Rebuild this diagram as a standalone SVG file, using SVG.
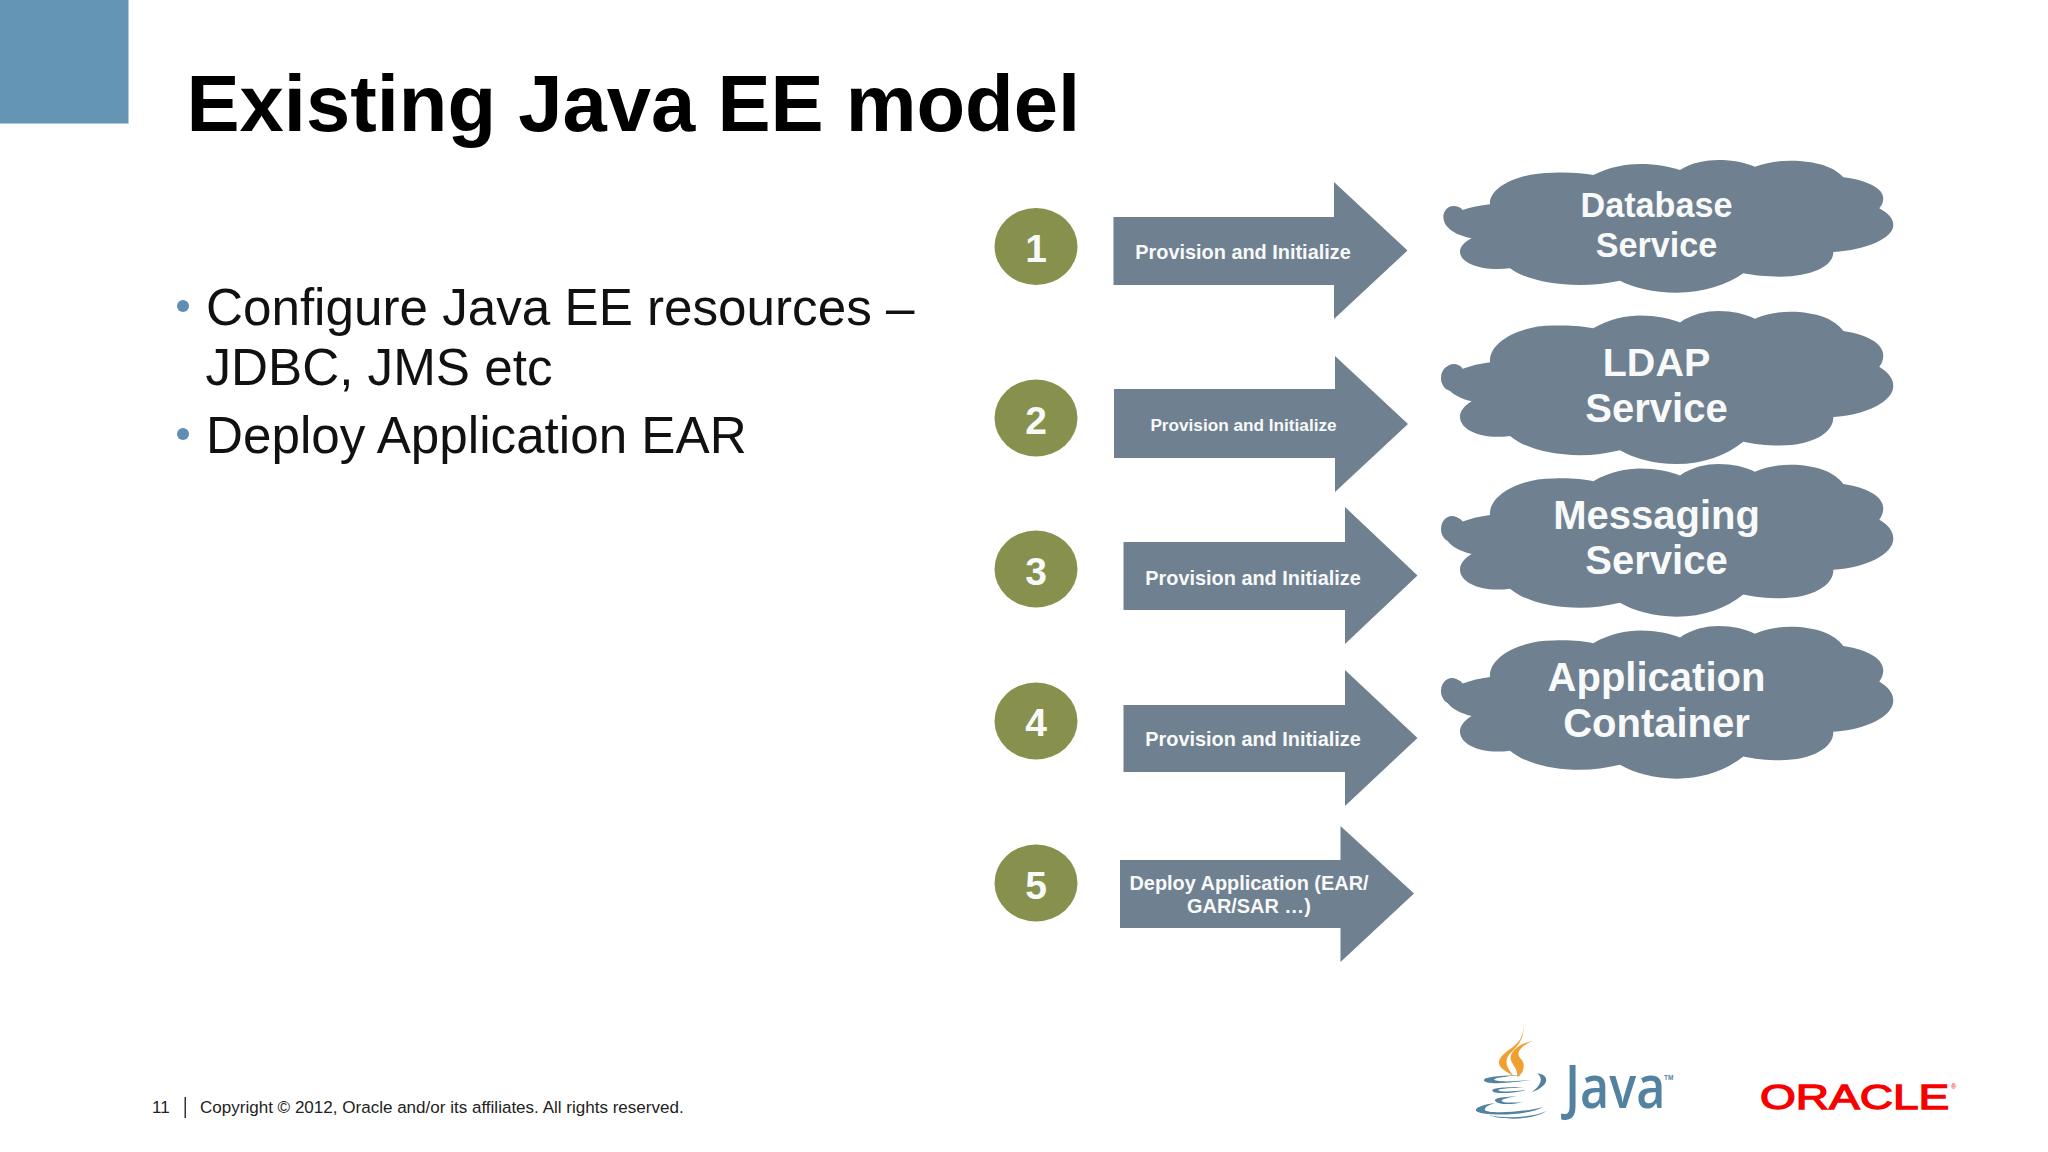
<svg xmlns="http://www.w3.org/2000/svg" xmlns:xlink="http://www.w3.org/1999/xlink" width="2048" height="1152" viewBox="0 0 2048 1152">
<defs>
<style>
text{font-family:"Liberation Sans",Arial,sans-serif}
.b{font-weight:bold;fill:#f8f9f9;text-anchor:middle}
.arrow,.cloud{fill:#6f8091}
.num{fill:#87904c}
.n{font-size:39px}
.body{font-size:51.2px;fill:#111}
.bul{fill:#5f8fb0}
.jb{fill:#5382a1}
.jo{fill:#f0a030}
</style>
<path id="cloudShape" d="M128,180 Q165,168 210,163 C205,115 290,68 400,68 C450,66 490,70 520,75 C570,50 620,42 660,42 C710,42 750,50 780,60 C815,38 860,30 895,30 C940,30 975,38 1005,50 C1040,38 1075,32 1110,32 C1190,32 1245,52 1270,82 C1340,90 1390,115 1390,145 C1390,158 1385,168 1378,175 C1405,190 1420,205 1420,225 C1420,265 1340,300 1240,306 C1242,345 1180,380 1080,380 C1040,380 1000,376 970,370 C920,405 850,428 770,428 C700,428 640,412 600,392 C560,400 520,405 480,405 C390,405 310,385 270,355 C185,365 120,340 120,305 C120,290 135,275 155,265 C120,258 95,245 85,233 C75,225 70,212 70,200 C70,182 85,168 100,168 C112,168 122,172 128,180 Z"/>
</defs>
<rect width="2048" height="1152" fill="#fff"/>
<rect id="corner" width="128.5" height="123.5" fill="#6595b5"/>
<text id="title" x="186.500" y="130.500" font-size="79.600" font-weight="bold" fill="#000">Existing Java EE model</text>
<g id="bullets">
<circle class="bul" cx="183" cy="306" r="6"/>
<text class="body" x="206" y="324.500">Configure Java EE resources –</text>
<text class="body" x="205.500" y="384.500">JDBC, JMS etc</text>
<circle class="bul" cx="183" cy="434" r="6"/>
<text class="body" x="206" y="452.500">Deploy Application EAR</text>
</g>
<g id="connectors">
<g id="arrow1"><path class="arrow" d="M1113.5,217H1334V182L1407.500,250.500L1334,319V285H1113.5Z"/><text class="b" x="1243" y="258.500" font-size="19.900">Provision and Initialize</text></g>
<g id="arrow2"><path class="arrow" d="M1114,389H1335V356L1408,424L1335,492V458H1114Z"/><text class="b" x="1243.500" y="430.500" font-size="17.200">Provision and Initialize</text></g>
<g id="arrow3"><path class="arrow" d="M1123.5,542H1345V507L1417.5,575.5L1345,644V610H1123.5Z"/><text class="b" x="1253" y="584.500" font-size="19.900">Provision and Initialize</text></g>
<g id="arrow4"><path class="arrow" d="M1123.5,705H1345V670L1417.5,738L1345,806V772H1123.5Z"/><text class="b" x="1253" y="746" font-size="19.900">Provision and Initialize</text></g>
<g id="arrow5"><path class="arrow" d="M1120,860H1340.5V826L1414,893.5L1340.5,962V928H1120Z"/><text class="b" x="1249" y="890" font-size="19.900">Deploy Application (EAR/</text><text class="b" x="1249" y="913" font-size="19.900">GAR/SAR …)</text></g>
</g>
<g id="step1"><ellipse class="num" cx="1036" cy="246.500" rx="41.500" ry="38.500"/><text class="b n" x="1036" y="262">1</text></g>
<g id="step2"><ellipse class="num" cx="1036" cy="418" rx="41.500" ry="38.500"/><text class="b n" x="1036" y="433.500">2</text></g>
<g id="step3"><ellipse class="num" cx="1036" cy="569" rx="41.500" ry="38.500"/><text class="b n" x="1036" y="585">3</text></g>
<g id="step4"><ellipse class="num" cx="1036" cy="721" rx="41.500" ry="38.500"/><text class="b n" x="1036" y="736">4</text></g>
<g id="step5"><ellipse class="num" cx="1036" cy="883" rx="41.500" ry="38.500"/><text class="b n" x="1036" y="899">5</text></g>
<g id="cloud1"><use href="#cloudShape" class="cloud" transform="translate(1420,160) scale(.3333,.3333) translate(0,-30)"/><text class="b" x="1656.500" y="216.500" font-size="34.200">Database</text><text class="b" x="1656.500" y="256.500" font-size="34.200">Service</text></g>
<g id="cloud2"><use href="#cloudShape" class="cloud" transform="translate(1420,311) scale(.3333,.3845) translate(0,-30)"/><ellipse class="cloud" cx="1452" cy="378" rx="11" ry="13"/><text class="b" x="1656.500" y="376" font-size="39.500">LDAP</text><text class="b" x="1656.500" y="422" font-size="40">Service</text></g>
<g id="cloud3"><use href="#cloudShape" class="cloud" transform="translate(1420,464) scale(.3333,.3835) translate(0,-30)"/><ellipse class="cloud" cx="1452" cy="529" rx="11" ry="13"/><text class="b" x="1656.500" y="529" font-size="40">Messaging</text><text class="b" x="1656.500" y="574" font-size="40">Service</text></g>
<g id="cloud4"><use href="#cloudShape" class="cloud" transform="translate(1420,626) scale(.3333,.3835) translate(0,-30)"/><ellipse class="cloud" cx="1452" cy="691" rx="11" ry="13"/><text class="b" x="1656.500" y="691" font-size="40">Application</text><text class="b" x="1656.500" y="736.500" font-size="40">Container</text></g>
<g id="footer">
<text x="152" y="1112.500" font-size="17.050" fill="#222">11</text>
<rect x="184.500" y="1097" width="1.500" height="21" fill="#333"/>
<text x="200" y="1112.500" font-size="17.050" fill="#222">Copyright © 2012, Oracle and/or its affiliates. All rights reserved.</text>
</g>
<g id="java-logo">
<g transform="translate(1460,1010) scale(.3333)">
<path class="jo" d="M184,24 C202,75 175,100 150,118 C115,142 108,160 128,177 C140,187 150,192 162,199 C147,180 130,160 146,136 C170,108 205,85 184,24Z"/>
<path class="jo" d="M219,92 C190,98 158,113 152,140 C148,160 175,170 172,202 C193,187 198,160 181,145 C168,130 178,110 219,92Z"/>
<path class="jb" d="M190,195 C120,197 75,200 72,210 C70,222 130,224 215,209 C150,217 100,215 103,208 C105,203 150,198 190,195Z"/>
<path class="jb" d="M232,190 C270,195 270,228 215,247 C245,225 250,205 232,190Z"/>
<path class="jb" d="M195,231 C130,231 95,234 97,242 C100,252 150,252 200,240 C160,246 115,246 115,240 C118,236 160,234 195,231Z"/>
<path class="jb" d="M170,259 C125,261 103,265 105,272 C110,284 160,286 190,275 C160,280 125,278 125,272 C125,268 145,263 170,259Z"/>
<path class="jb" d="M105,279 C60,285 45,295 48,302 C55,317 200,322 250,290 C200,307 80,312 75,300 C72,293 85,285 105,279Z"/>
<path class="jb" d="M85,315 C130,332 220,330 260,303 C220,322 140,327 85,315Z"/>
</g>
<text transform="translate(1565,1107.500) scale(.84,1)" font-size="60" font-weight="600" class="jb" style="font-family:'Open Sans',sans-serif">Java</text>
<text x="1664" y="1080" font-size="6.500" font-weight="bold" class="jb">TM</text>
</g>
<g id="oracle-logo">
<text transform="translate(1760,1109) scale(1.315,1)" font-size="35" stroke="#f80000" stroke-width="1.300" fill="#f80000">ORACLE</text>
<text x="1951" y="1089" font-size="7" fill="#f80000">®</text>
</g>
</svg>
